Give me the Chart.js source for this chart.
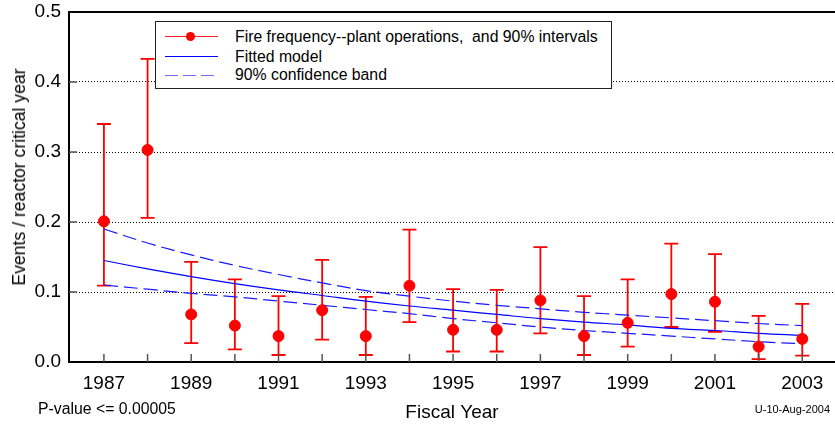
<!DOCTYPE html>
<html>
<head>
<meta charset="utf-8">
<script src="https://cdn.jsdelivr.net/npm/chart.js@4/dist/chart.umd.min.js"></script>
<style>
  body { margin: 0; background: #fff; font-family: "Liberation Sans", Arial, sans-serif; }
  #wrap { position: relative; width: 835px; height: 426px; overflow: hidden; }
  #legend { position: absolute; left: 155px; top: 21px; width: 455px; height: 66px; border: 1px solid #222; background: #fff; }
  .row { position: absolute; left: 0; width: 100%; height: 0; }
  .txt { position: absolute; left: 79px; top: -10px; line-height: 20px; font-size: 15.8px; color: #000; white-space: pre; }
  .smp { position: absolute; left: 9px; width: 53px; }
  .note { position: absolute; color: #000; white-space: pre; }
  #ytitle { left: 18.5px; top: 176.5px; font-size: 17.6px; line-height: 20px; transform: translate(-50%, -50%) rotate(-90deg); }
</style>
</head>
<body>
<div id="wrap">
  <canvas id="fireChart" width="835" height="426"></canvas>
  <div id="legend">
    <div class="row" style="top:14.5px">
      <div class="smp" style="top:-0.5px;height:1px;background:#ff2020"></div>
      <div style="position:absolute;left:29.5px;top:-4.5px;width:9px;height:9px;border-radius:50%;background:#ff0000"></div>
      <div class="txt">Fire frequency--plant operations,  and 90% intervals</div>
    </div>
    <div class="row" style="top:34.5px">
      <div class="smp" style="top:-0.5px;height:1px;background:#0000ff"></div>
      <div class="txt">Fitted model</div>
    </div>
    <div class="row" style="top:53px">
      <div class="smp" style="top:-0.5px;height:1.5px;background:repeating-linear-gradient(90deg,#6b6bff 0 13px,transparent 13px 18px)"></div>
      <div class="txt">90% confidence band</div>
    </div>
  </div>
  <div class="note" id="ytitle">Events / reactor critical year</div>
  <div class="note" style="left:38px;top:400px;font-size:15.8px">P-value &lt;= 0.00005</div>
  <div class="note" style="right:5px;top:403px;font-size:11px">U-10-Aug-2004</div>
</div>
<script>
// Data
const years = [1987, 1988, 1989, 1990, 1991, 1992, 1993, 1994, 1995, 1996, 1997, 1998, 1999, 2000, 2001, 2002, 2003];
const freq = [0.201, 0.303, 0.068, 0.052, 0.037, 0.074, 0.037, 0.109, 0.046, 0.046, 0.088, 0.037, 0.056, 0.097, 0.086, 0.022, 0.033];
const freqLow = [0.109, 0.206, 0.027, 0.018, 0.010, 0.032, 0.010, 0.057, 0.015, 0.015, 0.041, 0.010, 0.022, 0.050, 0.043, 0.004, 0.009];
const freqHigh = [0.340, 0.433, 0.143, 0.118, 0.094, 0.146, 0.093, 0.189, 0.104, 0.103, 0.164, 0.094, 0.118, 0.169, 0.154, 0.066, 0.083];
const fitMid = [0.145, 0.133, 0.122, 0.112, 0.103, 0.095, 0.087, 0.080, 0.074, 0.068, 0.062, 0.057, 0.053, 0.048, 0.045, 0.041, 0.038];
const bandHigh = [0.190, 0.170, 0.153, 0.138, 0.125, 0.113, 0.102, 0.094, 0.087, 0.081, 0.076, 0.071, 0.067, 0.063, 0.059, 0.055, 0.052];
const bandLow = [0.110, 0.104, 0.098, 0.093, 0.087, 0.081, 0.075, 0.069, 0.062, 0.056, 0.050, 0.045, 0.041, 0.037, 0.033, 0.029, 0.026];
const yTicks = [0, 0.1, 0.2, 0.3, 0.4, 0.5];

const pts = (vals) => years.map((yr, i) => ({ x: yr, y: vals[i] }));

Chart.defaults.font.family = '"Liberation Sans", Arial, sans-serif';
Chart.defaults.color = '#000';

// error bars, drawn under the points
const errorBars = {
  id: 'errorBars',
  beforeDatasetsDraw(chart) {
    const { ctx, scales: { x, y } } = chart;
    ctx.save();
    ctx.strokeStyle = '#ff0000';
    ctx.lineWidth = 1.8;
    years.forEach((yr, i) => {
      const px = x.getPixelForValue(yr);
      const top = y.getPixelForValue(freqHigh[i]);
      const bot = y.getPixelForValue(freqLow[i]);
      ctx.beginPath();
      ctx.moveTo(px, top); ctx.lineTo(px, bot);
      ctx.moveTo(px - 7, top); ctx.lineTo(px + 7, top);
      ctx.moveTo(px - 7, bot); ctx.lineTo(px + 7, bot);
      ctx.stroke();
    });
    ctx.restore();
  }
};

// top frame line and inward tick marks
const frame = {
  id: 'frame',
  afterDraw(chart) {
    const { ctx, chartArea: a, scales: { x, y } } = chart;
    ctx.save();
    ctx.strokeStyle = '#000';
    ctx.lineWidth = 2;
    ctx.beginPath();
    ctx.moveTo(a.left - 1, a.top); ctx.lineTo(a.right, a.top);
    ctx.stroke();
    ctx.strokeStyle = '#555';
    ctx.lineWidth = 1.5;
    ctx.beginPath();
    years.forEach(yr => {
      const px = x.getPixelForValue(yr);
      ctx.moveTo(px, a.bottom); ctx.lineTo(px, a.bottom - 8);
    });
    yTicks.slice(1, -1).forEach(v => {
      const py = y.getPixelForValue(v);
      ctx.moveTo(a.left, py); ctx.lineTo(a.left + 8, py);
    });
    ctx.stroke();
    ctx.restore();
  }
};

const config = {
  type: 'scatter',
  data: {
    datasets: [
      {
        label: 'Fire frequency--plant operations,  and 90% intervals',
        data: pts(freq),
        backgroundColor: '#ff0000',
        borderColor: '#ff0000',
        pointRadius: 5.5,
        showLine: false,
        order: 0,
      },
      {
        label: 'Fitted model',
        type: 'line',
        data: pts(fitMid),
        borderColor: '#0000ff',
        borderWidth: 1.2,
        pointRadius: 0,
        tension: 0.4,
        order: 1,
      },
      {
        label: '90% confidence band',
        type: 'line',
        data: pts(bandHigh),
        borderColor: '#1a1aff',
        borderWidth: 1.2,
        borderDash: [14, 6],
        pointRadius: 0,
        tension: 0.4,
        order: 1,
      },
      {
        label: '90% confidence band (lower)',
        type: 'line',
        data: pts(bandLow),
        borderColor: '#1a1aff',
        borderWidth: 1.2,
        borderDash: [14, 6],
        pointRadius: 0,
        tension: 0.4,
        order: 1,
      },
    ],
  },
  options: {
    responsive: false,
    animation: false,
    layout: { autoPadding: false, padding: { top: 12, left: 0, right: 0, bottom: 0 } },
    plugins: { legend: { display: false }, tooltip: { enabled: false } },
    scales: {
      x: {
        type: 'linear',
        min: 1986.2,
        max: 2003.75,
        afterBuildTicks: (s) => { s.ticks = years.map(v => ({ value: v })); },
        afterFit: (s) => { s.height = 64; s.paddingLeft = 0; s.paddingRight = 0; },
        grid: { display: false, drawTicks: false },
        border: { display: true, color: '#000', width: 2 },
        ticks: {
          autoSkip: false,
          maxRotation: 0,
          padding: 10,
          font: { size: 19 },
          callback: (v) => (v % 2 === 1 ? String(v) : ''),
        },
        title: { display: true, text: 'Fiscal Year', font: { size: 19 }, padding: { top: 0, bottom: 2 } },
      },
      y: {
        min: 0,
        max: 0.5,
        afterBuildTicks: (s) => { s.ticks = yTicks.map(v => ({ value: v })); },
        afterFit: (s) => { s.width = 69; s.paddingTop = 0; s.paddingBottom = 0; },
        grid: {
          drawTicks: false,
          lineWidth: 1,
          color: (c) => (c.tick && c.tick.value > 0.01 && c.tick.value < 0.49 ? '#000' : 'rgba(0,0,0,0)'),
        },
        border: { display: true, color: '#000', width: 2, dash: [1, 2] },
        ticks: {
          padding: 8,
          font: { size: 19 },
          callback: (v) => v.toFixed(1),
        },
      },
    },
  },
  plugins: [errorBars, frame],
};

const fireChart = new Chart(document.getElementById('fireChart'), config);
</script>
</body>
</html>
